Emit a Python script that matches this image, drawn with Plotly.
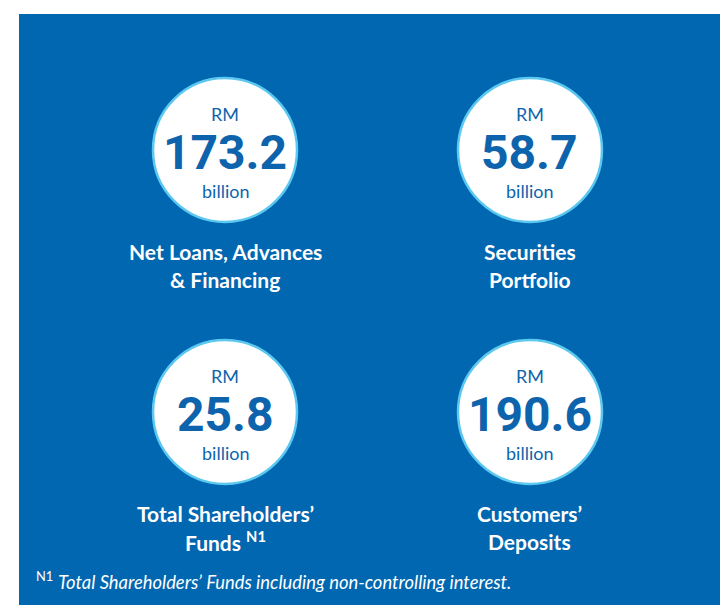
import plotly.graph_objects as go

# ---- data ----
labels = ["Net Loans, Advances<br>& Financing", "Securities<br>Portfolio",
          "Total Shareholders’<br>Funds <sup>N1</sup>", "Customers’<br>Deposits"]
values = [173.2, 58.7, 25.8, 190.6]
unit_prefix = "RM"
unit_suffix = "billion"
grid_col = [0, 1, 0, 1]
grid_row = [1, 1, 0, 0]
footnote = "<sup>N1</sup> <i>Total Shareholders’ Funds including non-controlling interest.</i>"

BLUE = "#0167b0"
TEXT_BLUE = "#0e64ac"
RING = "#5cc8f0"
NUM_FONT = "Roboto, Liberation Sans, sans-serif"

W, H = 720, 597  # page body has an 8px margin

fig = go.Figure()
fig.add_trace(go.Scatter(
    x=grid_col, y=grid_row, mode="markers",
    marker=dict(size=144, color="white", line=dict(color=RING, width=2.5)),
    hoverinfo="skip", showlegend=False))

ann = []
for c, r, v, lab in zip(grid_col, grid_row, values, labels):
    ann.append(dict(x=c, y=r, xref="x", yref="y", text=unit_prefix, showarrow=False,
                    yshift=36, font=dict(family="Lato", size=18, color=TEXT_BLUE)))
    ann.append(dict(x=c, y=r, xref="x", yref="y", text=f"{v:.1f}", showarrow=False,
                    yshift=-2, font=dict(family=NUM_FONT, size=48, color=TEXT_BLUE, weight="bold")))
    ann.append(dict(x=c, y=r, xref="x", yref="y", text=unit_suffix, showarrow=False,
                    yshift=-41, font=dict(family="Lato", size=18, color=TEXT_BLUE)))
    for i, line in enumerate(lab.split("<br>")):
        ann.append(dict(x=c, y=r, xref="x", yref="y", text=line, showarrow=False,
                        yshift=-101 - 28 * i,
                        font=dict(family="Lato", size=21, color="white", weight="bold")))

ann.append(dict(x=26 / W, y=1 - 572 / H, xref="paper", yref="paper", xanchor="left",
                yanchor="middle", text=footnote, showarrow=False,
                font=dict(family="Lato", size=18.4, color="white")))

fig.update_layout(
    width=W, height=H, margin=dict(l=0, r=0, t=0, b=0),
    paper_bgcolor="white", plot_bgcolor=BLUE,
    xaxis=dict(domain=[11 / W, 1], range=[-0.6754, 1.6492], visible=False, fixedrange=True),
    yaxis=dict(domain=[0, 1 - 6 / H], range=[-0.7366, 1.5191], visible=False, fixedrange=True),
    annotations=ann,
)

fig.write_html("out.html")
